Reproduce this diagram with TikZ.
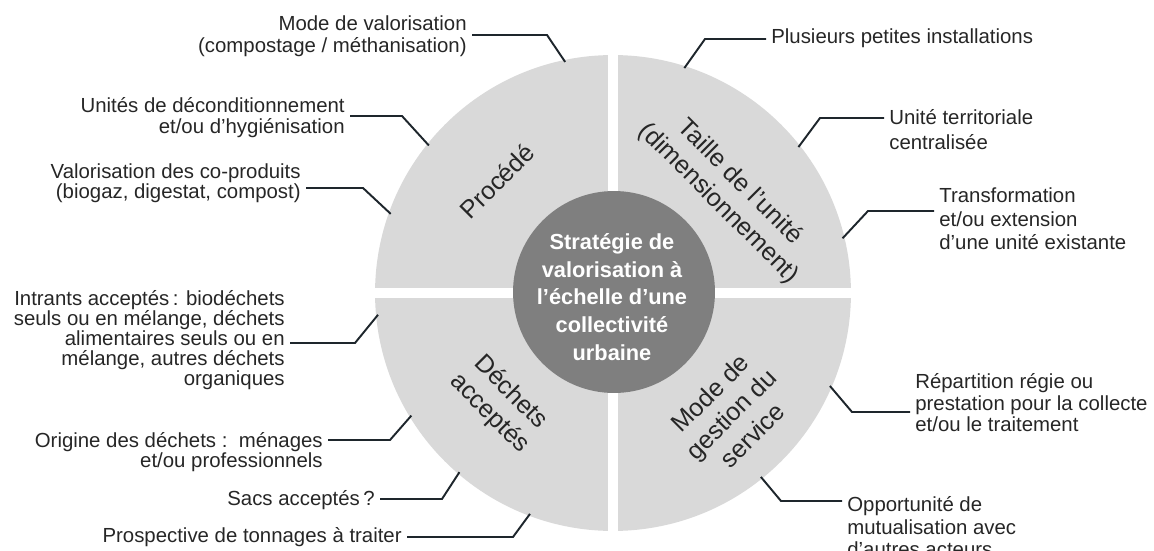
\documentclass[tikz,border=0pt]{standalone}
\usepackage{fontspec}
\setsansfont{Liberation Sans}
\usetikzlibrary{positioning, calc}
\definecolor{quadfill}{HTML}{D9D9D9}
\definecolor{hubfill}{HTML}{7F7F7F}
\definecolor{inkdark}{HTML}{262626}
\definecolor{leaderink}{HTML}{1E262C}
\def\ringR{4.76cm}
\def\hubD{4.04cm}
\def\crossW{0.2cm}
\def\tipR{236}
\newcommand{\StrategyStyles}{
  \tikzset{
    quadlabel/.style={font=\sffamily\fontsize{14.3}{17}\selectfont, text=inkdark, align=center, inner sep=0pt},
    hub/.style={circle, fill=hubfill, minimum size=\hubD, inner sep=0pt},
    hubtext/.style={font=\sffamily\bfseries\fontsize{12.4}{15.7}\selectfont, text=white, align=center, inner sep=0pt},
    lead/.style={font=\sffamily\fontsize{11.6}{##1}\selectfont},
    leftnote/.style={anchor=east, align=right, inner sep=0.1cm, text=inkdark, lead=12.6},
    rightnote/.style={anchor=west, align=left, inner sep=0.1cm, text=inkdark, lead=12.6},
    leader/.style={draw=leaderink, line width=1.1pt}
  }
}

\begin{document}
\begin{tikzpicture}[x=0.02cm, y=0.02cm, font=\sffamily]
  \StrategyStyles
  \useasboundingbox (0,0) rectangle (1154,-551);

  \coordinate (ctr) at (613,-293);
  \fill[quadfill] (ctr) circle (\ringR);
  \draw[white, line width=\crossW] ($(ctr)+(-250,0)$) -- ($(ctr)+(250,0)$);
  \draw[white, line width=\crossW] ($(ctr)+(0,-250)$) -- ($(ctr)+(0,250)$);
  \node[hub] (hub) at (614,-292) {};
  \node[hubtext] (hubtxt) at (612,-297) {Stratégie de\\valorisation à\\l’échelle d’une\\collectivité\\urbaine};

  \node[quadlabel, rotate=45] (proc) at (497,-181) {Procédé};
  \node[quadlabel, rotate=-45] (taille) at (729,-193) {Taille de l’unité\\(dimensionnement)};
  \node[quadlabel, rotate=-45] (dech) at (500,-403) {Déchets\\acceptés};
  \node[quadlabel, rotate=45] (gest) at (731,-414) {Mode de\\gestion du\\service};

  \node[leftnote, lead=12.5] (mv) at (472,-36) {Mode de valorisation\\(compostage / méthanisation)};
  \node[leftnote, lead=11.9] (ud) at (350,-117.5) {Unités de déconditionnement\\et/ou d’hygiénisation};
  \node[leftnote, lead=11.3] (vc) at (306,-183) {Valorisation des co-produits\\(biogaz, digestat, compost)};
  \node[leftnote, lead=11.3] (ia) at (290,-340) {Intrants acceptés\,: biodéchets\\seuls ou en mélange, déchets\\alimentaires seuls ou en\\mélange, autres déchets\\organiques};
  \node[leftnote, lead=11.3] (od) at (328,-452) {Origine des déchets :~~ménages\\et/ou professionnels};
  \node[leftnote] (sa) at (380,-500) {Sacs acceptés\,?};
  \node[leftnote] (pt) at (407,-537) {Prospective de tonnages à traiter};

  \node[rightnote] (pi) at (766,-38) {Plusieurs petites installations};
  \node[rightnote, lead=14.2] (ut) at (884,-129.5) {Unité territoriale\\centralisée};
  \node[rightnote, lead=13.3] (tr) at (934,-219) {Transformation\\et/ou extension\\d’une unité existante};
  \node[rightnote, lead=12.2] (rr) at (910,-403) {Répartition régie ou\\prestation pour la collecte\\et/ou le traitement};
  \node[rightnote, lead=12.8] (om) at (842,-527) {Opportunité de\\mutualisation avec\\d’autres acteurs};

  \coordinate (mvE) at (547,-35);  \coordinate (mvP) at ($(ctr)+(101.7:\tipR)$);
  \coordinate (udE) at (402,-116); \coordinate (udP) at ($(ctr)+(141.3:\tipR)$);
  \coordinate (vcE) at (363,-188); \coordinate (vcP) at ($(ctr)+(160.4:\tipR)$);
  \coordinate (iaE) at (355,-343); \coordinate (iaP) at ($(ctr)+(185.3:\tipR)$);
  \coordinate (odE) at (390,-440); \coordinate (odP) at ($(ctr)+(211.3:\tipR)$);
  \coordinate (saE) at (442,-499); \coordinate (saP) at ($(ctr)+(229.4:\tipR)$);
  \coordinate (ptE) at (513,-537); \coordinate (ptP) at ($(ctr)+(249.4:\tipR)$);
  \coordinate (piE) at (705,-39);  \coordinate (piP) at ($(ctr)+(72.4:\tipR)$);
  \coordinate (utE) at (820,-118); \coordinate (utP) at ($(ctr)+(38.2:\tipR)$);
  \coordinate (trE) at (868,-211); \coordinate (trP) at ($(ctr)+(13.4:\tipR)$);
  \coordinate (rrE) at (852,-412); \coordinate (rrP) at ($(ctr)+(-23.2:\tipR)$);
  \coordinate (omE) at (781,-501); \coordinate (omP) at ($(ctr)+(-51.2:\tipR)$);

  \draw[leader] (mv.east |- mvE) -- (mvE) -- (mvP);
  \draw[leader] (ud.east |- udE) -- (udE) -- (udP);
  \draw[leader] (vc.east |- vcE) -- (vcE) -- (vcP);
  \draw[leader] (ia.east |- iaE) -- (iaE) -- (iaP);
  \draw[leader] (od.east |- odE) -- (odE) -- (odP);
  \draw[leader] (sa.east |- saE) -- (saE) -- (saP);
  \draw[leader] (pt.east |- ptE) -- (ptE) -- (ptP);
  \draw[leader] (pi.west |- piE) -- (piE) -- (piP);
  \draw[leader] (ut.west |- utE) -- (utE) -- (utP);
  \draw[leader] (tr.west |- trE) -- (trE) -- (trP);
  \draw[leader] (rr.west |- rrE) -- (rrE) -- (rrP);
  \draw[leader] (om.west |- omE) -- (omE) -- (omP);
\end{tikzpicture}
\end{document}
